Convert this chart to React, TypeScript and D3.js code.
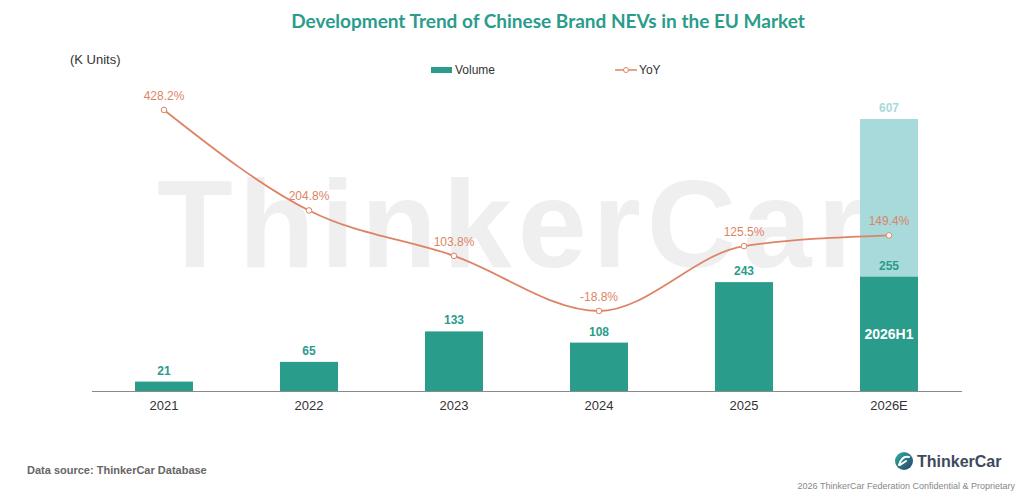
import { useEffect, useRef } from 'react';
import * as d3 from 'd3';

const years = ['2021', '2022', '2023', '2024', '2025', '2026E'];
const volume = [21, 65, 133, 108, 243, 255];
const forecastTotal = [0, 0, 0, 0, 0, 607];
const yoy = [428.2, 204.8, 103.8, -18.8, 125.5, 149.4];

const TEAL = '#2a9c8b';
const LIGHT_TEAL = '#a8d9db';
const ORANGE = '#dd8466';
const FONT = '"Liberation Sans", Arial, sans-serif';

export default function App() {
  const svgRef = useRef<SVGSVGElement>(null);

  useEffect(() => {
    if (!svgRef.current) return;
    const svg = d3.select(svgRef.current);
    svg.selectAll('*').remove();

    const width = 1024;
    const height = 501;

    svg.append('rect').attr('width', width).attr('height', height).attr('fill', 'white');

    // Watermark
    svg.append('text')
      .attr('x', 157)
      .attr('y', 267)
      .attr('font-family', FONT)
      .attr('font-weight', 'bold')
      .attr('font-size', 124)
      .attr('letter-spacing', 6)
      .attr('fill', '#efefef')
      .text('ThinkerCar');

    // Scales
    const x = d3.scaleBand().domain(years).range([91.5, 961.5]).paddingInner(0.6).paddingOuter(0.3);
    const y = d3.scaleLinear().domain([0, 607]).range([391, 119]);
    const y2 = d3.scaleLinear().domain([-18.8, 428.2]).range([311, 110]);
    const cx = (d: string) => x(d)! + x.bandwidth() / 2;

    // Title
    svg.append('text')
      .attr('x', 548)
      .attr('y', 28)
      .attr('text-anchor', 'middle')
      .attr('font-family', 'Lato, "Open Sans", sans-serif')
      .attr('font-weight', 'bold')
      .attr('font-size', 19)
      .attr('fill', TEAL)
      .text('Development Trend of Chinese Brand NEVs in the EU Market');

    svg.append('text')
      .attr('x', 70)
      .attr('y', 64)
      .attr('font-family', FONT)
      .attr('font-size', 13)
      .attr('fill', '#333')
      .text('(K Units)');

    // Legend
    const legend = svg.append('g').attr('font-family', FONT).attr('font-size', 12).attr('fill', '#333');
    legend.append('rect').attr('x', 431).attr('y', 67).attr('width', 21).attr('height', 6).attr('fill', TEAL);
    legend.append('text').attr('x', 455).attr('y', 74).text('Volume');
    legend.append('line').attr('x1', 615).attr('x2', 637).attr('y1', 70).attr('y2', 70)
      .attr('stroke', ORANGE).attr('stroke-width', 1.5);
    legend.append('circle').attr('cx', 626).attr('cy', 70).attr('r', 2.5)
      .attr('fill', 'white').attr('stroke', ORANGE).attr('stroke-width', 1);
    legend.append('text').attr('x', 639).attr('y', 74).text('YoY');

    // Forecast bar (full year)
    const fData = years.map((d, i) => ({ year: d, v: forecastTotal[i] })).filter(d => d.v > 0);
    svg.selectAll('.fbar').data(fData).enter().append('rect')
      .attr('x', d => x(d.year)!)
      .attr('width', x.bandwidth())
      .attr('y', d => y(d.v))
      .attr('height', d => y(0) - y(d.v))
      .attr('fill', LIGHT_TEAL);
    svg.selectAll('.flabel').data(fData).enter().append('text')
      .attr('x', d => cx(d.year))
      .attr('y', d => y(d.v) - 7)
      .attr('text-anchor', 'middle')
      .attr('font-family', FONT)
      .attr('font-weight', 'bold')
      .attr('font-size', 12)
      .attr('fill', LIGHT_TEAL)
      .text(d => d.v);

    // Volume bars
    const vData = years.map((d, i) => ({ year: d, v: volume[i] }));
    svg.selectAll('.bar').data(vData).enter().append('rect')
      .attr('x', d => x(d.year)!)
      .attr('width', x.bandwidth())
      .attr('y', d => y(d.v))
      .attr('height', d => y(0) - y(d.v))
      .attr('fill', TEAL);
    svg.selectAll('.blabel').data(vData).enter().append('text')
      .attr('x', d => cx(d.year))
      .attr('y', d => y(d.v) - 7)
      .attr('text-anchor', 'middle')
      .attr('font-family', FONT)
      .attr('font-weight', 'bold')
      .attr('font-size', 12)
      .attr('fill', TEAL)
      .text(d => d.v);

    // 2026H1 label inside bar
    svg.append('text')
      .attr('x', cx('2026E'))
      .attr('y', (y(0) + y(255)) / 2 + 5)
      .attr('text-anchor', 'middle')
      .attr('font-family', FONT)
      .attr('font-weight', 'bold')
      .attr('font-size', 14)
      .attr('fill', 'white')
      .text('2026H1');

    // X axis
    const axis = svg.append('g').attr('transform', `translate(0,${y(0)})`)
      .call(d3.axisBottom(x).tickSize(0).tickPadding(10));
    axis.select('.domain').attr('stroke', '#8a8a8a').attr('stroke-width', 1.2);
    axis.selectAll('text').attr('font-family', FONT).attr('font-size', 13).attr('fill', '#333');

    // YoY line
    const pts = years.map((d, i) => ({ year: d, v: yoy[i] }));
    const line = d3.line<{ year: string; v: number }>()
      .x(d => cx(d.year))
      .y(d => y2(d.v))
      .curve(d3.curveMonotoneX);
    svg.append('path').datum(pts)
      .attr('d', line)
      .attr('fill', 'none')
      .attr('stroke', ORANGE)
      .attr('stroke-width', 1.8);
    svg.selectAll('.dot').data(pts).enter().append('circle')
      .attr('cx', d => cx(d.year))
      .attr('cy', d => y2(d.v))
      .attr('r', 2.8)
      .attr('fill', 'white')
      .attr('stroke', ORANGE)
      .attr('stroke-width', 1);
    svg.selectAll('.ylabel').data(pts).enter().append('text')
      .attr('x', d => cx(d.year))
      .attr('y', d => y2(d.v) - 10)
      .attr('text-anchor', 'middle')
      .attr('font-family', FONT)
      .attr('font-size', 12)
      .attr('fill', ORANGE)
      .text(d => `${d.v.toFixed(1)}%`);

    // Footer
    svg.append('text')
      .attr('x', 27)
      .attr('y', 474)
      .attr('font-family', FONT)
      .attr('font-weight', 'bold')
      .attr('font-size', 11)
      .attr('fill', '#666')
      .text('Data source: ThinkerCar Database');

    const grad = svg.append('defs').append('linearGradient')
      .attr('id', 'logoGrad').attr('x1', '0').attr('y1', '0').attr('x2', '1').attr('y2', '1');
    grad.append('stop').attr('offset', '0%').attr('stop-color', '#2bb3a3');
    grad.append('stop').attr('offset', '100%').attr('stop-color', '#2c3e66');
    svg.append('circle').attr('cx', 904).attr('cy', 461).attr('r', 9).attr('fill', 'url(#logoGrad)');
    svg.append('path')
      .attr('d', 'M899,465 Q902,455 909,457 M900,465 L906,461')
      .attr('fill', 'none').attr('stroke', 'white').attr('stroke-width', 2).attr('stroke-linecap', 'round');
    svg.append('text')
      .attr('x', 917)
      .attr('y', 467)
      .attr('font-family', FONT)
      .attr('font-weight', 'bold')
      .attr('font-size', 16)
      .attr('fill', '#3d4a5c')
      .text('ThinkerCar');
    svg.append('text')
      .attr('x', 1015)
      .attr('y', 489)
      .attr('text-anchor', 'end')
      .attr('font-family', FONT)
      .attr('font-size', 9)
      .attr('fill', '#888')
      .text('2026 ThinkerCar Federation Confidential & Proprietary');
  }, []);

  return (
    <div style={{ position: 'absolute', left: 0, top: 0 }}>
      <svg ref={svgRef} width={1024} height={501} style={{ display: 'block' }} />
    </div>
  );
}
